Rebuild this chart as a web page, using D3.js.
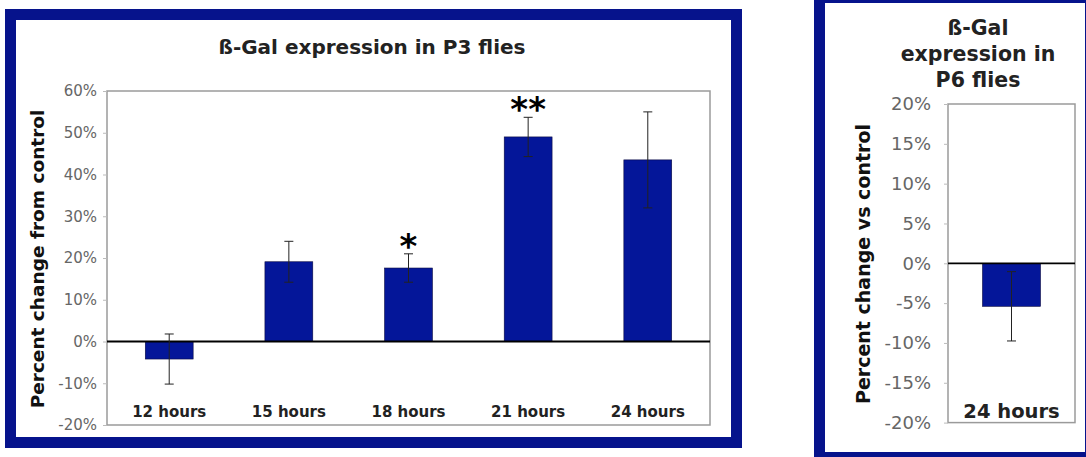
<!DOCTYPE html>
<html>
<head>
<meta charset="utf-8">
<script src="https://cdn.jsdelivr.net/npm/d3@7"></script>
<style>
  html, body { margin: 0; padding: 0; background: #fff; }
  svg { display: block; font-family: "DejaVu Sans", Verdana, sans-serif; }
</style>
</head>
<body>
<svg id="chart" width="1086" height="457"></svg>
<script>
// P3 flies
const p3Hours = ["12 hours", "15 hours", "18 hours", "21 hours", "24 hours"];
const p3Mean = [-4.2, 19.1, 17.6, 49.0, 43.5];
const p3Err = [6.0, 4.9, 3.4, 4.7, 11.5];
const p3Stars = ["", "", "*", "**", ""];
const p3Ticks = [-20, -10, 0, 10, 20, 30, 40, 50, 60];

// P6 flies
const p6Hours = ["24 hours"];
const p6Mean = [-5.4];
const p6Err = [4.35];
const p6Ticks = [-20, -15, -10, -5, 0, 5, 10, 15, 20];

const frameColor = "#06138c";
const barColor = "#041699";

const svg = d3.select("#chart");

// frames
svg.append("rect")
  .attr("x", 10.5).attr("y", 14.5)
  .attr("width", 726).attr("height", 428)
  .attr("fill", "#fff")
  .attr("stroke", frameColor).attr("stroke-width", 11);

svg.append("rect")
  .attr("x", 819.5).attr("y", -2.5)
  .attr("width", 271).attr("height", 460)
  .attr("fill", "#fff")
  .attr("stroke", frameColor).attr("stroke-width", 11);

function drawPanel(cfg) {
  const g = svg.append("g");
  const x = d3.scaleBand()
    .domain(cfg.cats)
    .range([cfg.left, cfg.right])
    .paddingInner(cfg.padIn)
    .paddingOuter(cfg.padOut);
  const y = d3.scaleLinear()
    .domain([cfg.ticks[0], cfg.ticks[cfg.ticks.length - 1]])
    .range([cfg.bottom, cfg.top]);

  // plot border
  g.append("rect")
    .attr("x", cfg.left).attr("y", cfg.top)
    .attr("width", cfg.right - cfg.left).attr("height", cfg.bottom - cfg.top)
    .attr("fill", "none")
    .attr("stroke", "#9a9a9a").attr("stroke-width", 1.5);

  // y axis
  const yAxis = g.append("g")
    .attr("transform", `translate(${cfg.left},0)`)
    .call(d3.axisLeft(y).tickValues(cfg.ticks).tickSize(4).tickPadding(cfg.tickPad)
      .tickFormat(d => d + "%"));
  yAxis.select(".domain").remove();
  yAxis.selectAll(".tick line").attr("stroke", "#bbb");
  yAxis.selectAll(".tick text")
    .attr("fill", "#666")
    .style("font-size", cfg.tickFont + "px")
    .style("font-family", "'DejaVu Sans', Verdana, sans-serif");

  const data = cfg.cats.map((c, i) => ({ c, v: cfg.mean[i], e: cfg.err[i], s: cfg.stars ? cfg.stars[i] : "" }));

  // bars
  g.selectAll(".bar").data(data).join("rect")
    .attr("class", "bar")
    .attr("x", d => x(d.c))
    .attr("width", x.bandwidth())
    .attr("y", d => y(Math.max(0, d.v)))
    .attr("height", d => Math.abs(y(d.v) - y(0)))
    .attr("fill", barColor)
    .attr("stroke", "#0a0a40").attr("stroke-width", 0.6);

  // zero line
  g.append("line")
    .attr("x1", cfg.left).attr("x2", cfg.right)
    .attr("y1", y(0)).attr("y2", y(0))
    .attr("stroke", "#000").attr("stroke-width", 1.8);

  // error bars
  const eb = g.selectAll(".err").data(data).join("g").attr("class", "err")
    .attr("stroke", "#222").attr("stroke-width", 1);
  eb.append("line")
    .attr("x1", d => x(d.c) + x.bandwidth() / 2).attr("x2", d => x(d.c) + x.bandwidth() / 2)
    .attr("y1", d => y(d.v + d.e)).attr("y2", d => y(d.v - d.e));
  [1, -1].forEach(sgn => {
    eb.append("line")
      .attr("x1", d => x(d.c) + x.bandwidth() / 2 - 4.5)
      .attr("x2", d => x(d.c) + x.bandwidth() / 2 + 4.5)
      .attr("y1", d => y(d.v + sgn * d.e)).attr("y2", d => y(d.v + sgn * d.e));
  });

  // significance stars
  g.selectAll(".star").data(data.filter(d => d.s)).join("text")
    .attr("class", "star")
    .attr("x", d => x(d.c) + x.bandwidth() / 2)
    .attr("y", d => y(d.v + d.e) + 4)
    .attr("text-anchor", "middle")
    .attr("font-size", 34).attr("font-weight", "bold")
    .attr("fill", "#000")
    .text(d => d.s);

  // category labels
  g.selectAll(".cat").data(data).join("text")
    .attr("class", "cat")
    .attr("x", d => x(d.c) + x.bandwidth() / 2)
    .attr("y", cfg.catY)
    .attr("text-anchor", "middle")
    .attr("font-size", cfg.catFont).attr("font-weight", "bold")
    .attr("fill", "#222")
    .text(d => d.c);

  // y title
  g.append("text")
    .attr("transform", `translate(${cfg.yTitleX},${cfg.yTitleY}) rotate(-90)`)
    .attr("text-anchor", "middle")
    .attr("font-size", cfg.yTitleFont).attr("font-weight", "bold")
    .attr("fill", "#111")
    .text(cfg.yTitle);

  // chart title
  g.append("text")
    .attr("x", cfg.titleX)
    .attr("text-anchor", "middle")
    .attr("font-size", cfg.titleFont).attr("font-weight", "bold")
    .attr("fill", "#222")
    .selectAll("tspan").data(cfg.title).join("tspan")
    .attr("x", cfg.titleX)
    .attr("y", (d, i) => cfg.titleY + i * cfg.titleStep)
    .text(d => d);
}

drawPanel({
  cats: p3Hours, mean: p3Mean, err: p3Err, stars: p3Stars, ticks: p3Ticks,
  left: 107, right: 710, top: 91, bottom: 425,
  padIn: 0.6, padOut: 0.32, tickPad: 6, tickFont: 15,
  catY: 417, catFont: 15,
  yTitle: "Percent change from control", yTitleX: 44, yTitleY: 259, yTitleFont: 18.5,
  title: ["ß-Gal expression in P3 flies"], titleX: 372, titleY: 54, titleStep: 0, titleFont: 20
});

drawPanel({
  cats: p6Hours, mean: p6Mean, err: p6Err, ticks: p6Ticks,
  left: 948, right: 1075, top: 104, bottom: 422.6,
  padIn: 0.373, padOut: 0.373, tickPad: 13, tickFont: 18,
  catY: 418, catFont: 19.5,
  yTitle: "Percent change vs control", yTitleX: 870, yTitleY: 264, yTitleFont: 19,
  title: ["ß-Gal", "expression in", "P6 flies"], titleX: 978, titleY: 35, titleStep: 26, titleFont: 20.5
});
</script>
</body>
</html>
